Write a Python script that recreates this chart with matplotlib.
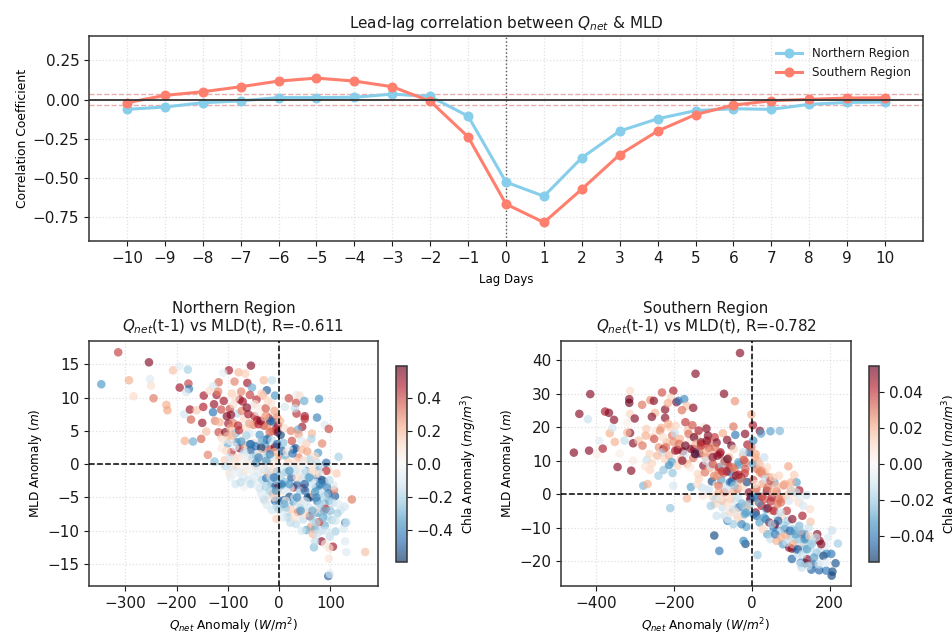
import matplotlib
matplotlib.use("Agg")
import matplotlib.pyplot as plt

lags = [-10,-9,-8,-7,-6,-5,-4,-3,-2,-1,0,1,2,3,4,5,6,7,8,9,10]
corr_north = [-.062,-.047,-.02,-.008,.013,.013,.015,.035,.02,-.105,-.525,-.615,-.37,-.2,-.122,-.07,-.058,-.062,-.03,-.018,-.015]
corr_south = [-.02,.027,.05,.082,.118,.137,.118,.082,-.01,-.237,-.665,-.782,-.57,-.35,-.2,-.095,-.035,-.007,.002,.01,.012]
signif = 0.035

north_x = [
 -314,-347,-254,-293,-284,-252,-250,-245,-220,-218,
 -207,-195,-178,-194,-177,-176,-181,-185,-174,-172,
 -161,-147,-148,-150,-184,-168,-152,-139,-126,-142,
 -98,-79,-66,-55,-87,-62,-30,-14,-109,-118,
 -129,-53,-24,-31,-8,-92,-74,-57,-77,-44,
 -122,-119,-136,34,19,40,33,49,78,74,
 50,50,34,31,11,89,97,64,45,37,
 84,63,53,116,76,142,168,131,129,105,
 83,68,70,96,99,97,98,129,132,128,
 120,109,107,112,106,110,99,89,126,114,
 -127,-129,-113,-102,-96,-89,-82,-73,-68,-60,
 -52,-47,-43,-35,-26,-20,-25,-15,-11,-4,
 -118,-112,-105,-99,-95,-90,-85,-78,-70,-64,
 -56,-50,-40,-38,-30,-24,-17,-12,-6,-3,
 -112,-106,-100,-93,-88,-83,-77,-72,-66,-60,
 -55,-50,-45,-41,-36,-30,-27,-22,-17,-12,
 -8,-3,3,8,12,18,25,28,32,38,
 44,50,55,60,65,72,78,85,92,96,
 -105,-97,-90,-84,-78,-70,-65,-60,-52,-45,
 -40,-34,-28,-25,-18,-15,-10,-7,-4,-1,
 -68,-52,-27,-20,-12,-8,-5,-2,-30,-14,
 3,8,12,16,20,24,28,32,35,39,
 44,48,52,56,60,64,68,72,76,80,
 5,10,15,18,23,27,33,37,42,47,
 52,57,62,65,70,75,78,84,88,94,
 60,53,66,72,82,86,91,97,103,75,
 60,70,78,88,92,96,48,40,22,-5,
 -95,-88,-60,-40,-33,-22,-12,-90,-75,-46,
 -125,-116,-108,-101,-94,-86,-80,-71,-63,-58,
 -48,-42,-36,-28,-22,-18,-9,-2,-34,-64,
 -110,-103,-97,-92,-86,-80,-74,-68,-62,-57,
 -52,-46,-41,-35,-29,-24,-19,-14,-9,-4,
 -95,-85,-75,-62,-55,-48,-38,-32,-26,-21,
 -16,-11,-6,-3,-18,-9,-24,-35,-42,-1,
 2,6,10,14,19,23,28,33,38,43,
 5,9,13,20,26,30,35,41,46,51,
 55,60,65,70,74,80,84,89,93,98,
 8,13,22,30,36,44,50,58,63,68,
 74,80,86,92,100,105,110,116,70,90,
 -70,-60,-50,-38,-28,-15,-5,15,45,70,
 -40,-25,-10,5,20,35,50,65,80,-55,
 -33,-18,-6,10,26,42,58,73,88,-45]
north_y = [
 16.8,12.0,15.3,12.6,10.2,12.8,11.8,9.9,8.9,8.1,
 14.1,14.7,14.2,11.5,12.1,11.3,10.8,7.5,8.2,6.7,
 8.1,10.3,8.6,6.2,3.5,3.4,3.8,1.4,.4,4.9,
 14.1,13.8,13.6,14.8,12.4,12.2,12.6,12.6,13.7,12.3,
 11.7,11.5,11.1,10.3,10.3,10.6,10.9,10.4,9.7,9.7,
 10.4,10.9,11,10.4,9.9,10.3,9.2,9.5,9.8,7,
 7.2,6.8,7.6,8.4,8.6,5.9,5.3,4.6,5.6,5.2,
 3.1,3.8,3.1,1.1,1.7,-5.3,-13.2,-13.2,-11.6,-12.4,
 -11.6,-12.5,-11.6,-16.8,-16.5,-14.2,-12.6,-8.8,-8.7,-6.4,
 -6.9,-4.8,-3.9,-1.4,-3.2,-10.1,-10.9,-9.2,-9.7,-7.4,
 9,7.8,8.2,7.2,8.3,9,7.6,8,6.8,7.5,
 8.8,9,6.6,8.3,8.4,6.9,7.3,9.2,6.3,7,
 4.8,4,4.8,6.1,5.4,6.2,4.6,5.1,3.9,5.5,
 4.6,5.9,6,4.4,5.8,5.7,6.5,5,5.2,4.8,
 2.4,.6,3.1,1.8,.9,3.3,2.4,1.2,2.8,.8,
 2.1,3.2,1.2,1.8,3.4,1.7,3,.6,2.2,.3,
 2.6,1,4.4,3.2,1.3,.3,3.5,2.2,2.4,1,
 2.2,.4,1.9,.7,-.1,.4,-.8,-.2,.2,-1,
 -.3,-1.4,-.6,-.2,-1.3,-1.9,-.9,-2.3,-1.1,-.3,
 -1.3,-2.4,-.9,-2.1,-1.6,-3,-2.3,-3.3,-1.1,-3.3,
 -3.4,-2.8,-5.4,-4.6,-4.4,-5.5,-6.3,-5.4,-5.3,-6.9,
 -1.8,-.5,-2.7,-1.2,-4.9,-2,-3.5,-1,-3.1,-5.6,
 -2.1,-3.6,-1,-5,-5,-2.9,-4.5,-3.5,-2,-4.1,
 -6.2,-5.4,-7.3,-8,-6.8,-5.6,-9,-7.2,-6.6,-8.3,
 -5.6,-7.1,-9.4,-8.4,-9.8,-7.3,-8.7,-6.9,-5.9,-7.9,
 -7.8,-9.9,-10.5,-8.8,-10,-6.2,-6.7,-5.5,-8.4,-6,
 -3.2,-1.4,-3.2,-2.6,-1,-4.4,.6,-.4,-3.6,-8.2,
 3.5,-1.5,6.2,3.2,2.3,3.9,1.3,.2,-.2,-.6,
 6.5,6.3,9.5,4.2,7.4,10,5.8,9.4,8.5,6.1,
 7.2,7.9,6.5,7.1,9.5,4.8,8,5.8,10.6,4.3,
 3.6,2,1,4.3,2.6,1,3.4,1.8,.4,3,
 1,2.7,.2,2.5,.6,3.7,1,3.6,1.8,3,
 -2,-3,-2.7,-.2,-3,-2,-3.6,-.6,-3.4,-1,
 -2,-.8,-2.4,-4.2,-4,-5,-6.1,-4.4,-3.2,-6.8,
 6.5,2,5.4,-1.2,2.2,5,-.2,.4,4.5,3.6,
 -3.2,-4,-5.5,-3,-1,-5,-2,-4,-1,-4,
 -1.2,-2,-1,-2.8,-5.5,-1.5,-2.4,-4.8,-3.4,-2.4,
 -8,-6.5,-8.8,-8,-6,-10,-7.5,-6.5,-8,-7,
 -10.5,-6,-8,-10,-7,-5.8,-8.5,-6,-4.2,-12,
 1,-.6,.2,1.5,.3,.8,.2,1.8,-.2,1.2,
 1,.5,-2,-3,-1,-5,-3,-7,-3,3,
 3.6,1.5,-4,-6,1.6,-7,-2,-5,-7,.2]
north_c = [
 .42,-.35,.55,.22,.12,-.08,.1,.32,.22,.24,
 .18,-.07,-.2,.5,.42,-.42,-.1,-.12,.5,.36,
 .16,.5,.48,.52,.22,-.3,.36,.3,-.25,.18,
 .5,.2,.15,.55,.3,.5,.2,-.15,-.05,.35,
 -.1,-.3,-.5,.2,-.35,.15,.3,.42,.5,.45,
 .5,.3,.1,-.05,.4,.1,.4,-.3,-.35,-.4,
 .5,.45,.45,-.15,-.1,-.08,.4,.2,.5,-.3,
 .3,-.2,.15,-.2,-.35,.32,.18,-.08,-.08,.5,
 .55,-.25,-.15,-.5,-.1,.08,.1,-.4,-.1,-.12,
 -.12,-.5,.3,.15,-.08,-.2,-.15,-.3,-.1,-.2,
 .52,-.45,.4,.55,.4,.1,-.15,.3,.12,.5,
 -.05,.08,.5,.05,.38,.5,.3,.08,-.45,.3,
 .4,.15,.55,.5,.2,.3,-.25,.45,.05,.1,
 -.08,.3,.48,-.35,.4,.3,-.5,.3,.45,.58,
 .06,.15,-.3,.45,.12,-.4,.55,-.08,.2,-.12,
 -.5,.1,-.35,-.08,-.12,-.2,-.35,.2,.4,.15,
 .58,.3,-.55,-.25,-.3,.15,.4,-.55,-.5,.3,
 .2,-.1,.25,-.2,.08,-.15,-.3,-.1,-.45,.1,
 -.15,.1,-.12,.12,-.1,-.08,.1,-.12,-.05,.2,
 -.1,-.2,.15,-.45,.2,-.3,-.1,-.5,-.35,.58,
 -.03,-.1,.08,-.12,.25,-.5,-.2,-.45,-.15,-.12,
 -.2,-.1,-.25,.1,-.55,-.5,.5,-.15,-.5,.1,
 -.15,.5,-.4,-.58,-.58,-.1,.15,-.3,-.5,-.15,
 -.1,-.5,-.12,-.2,.15,-.35,-.15,.3,-.2,-.15,
 -.12,.15,.25,-.1,-.3,-.35,.4,.1,-.25,-.15,
 .55,-.3,.2,-.2,-.15,-.08,.45,-.3,-.2,-.1,
 -.08,.12,-.4,-.3,.45,-.45,.08,.05,-.1,.15,
 .05,-.02,-.04,.05,.28,-.3,.08,.05,.03,-.03,
 .3,.2,.5,.18,.55,.1,.45,.5,.55,.25,
 .45,.03,.55,.2,.12,.35,.25,.5,.15,-.2,
 .04,.12,-.1,.2,-.06,.1,-.35,-.15,.05,-.4,
 -.15,-.45,.1,-.55,-.12,-.5,-.1,-.15,.2,-.5,
 -.06,-.12,-.15,.04,-.15,-.08,-.15,-.06,-.2,-.12,
 -.15,.1,-.22,.15,-.18,.1,-.1,-.08,-.04,-.2,
 .2,-.5,.1,-.2,-.05,.3,-.1,.1,.25,-.08,
 -.35,-.1,.05,-.35,-.08,-.12,.1,-.22,-.06,-.45,
 -.12,-.35,.1,-.1,-.4,.05,-.55,-.2,-.4,-.15,
 -.08,-.2,-.15,.1,-.12,-.1,.08,-.12,-.2,.1,
 -.12,-.2,-.3,-.12,-.25,-.15,-.12,-.08,-.35,.05,
 .03,-.02,.05,.08,.1,-.05,.02,.06,-.02,.12,
 -.4,-.35,-.45,-.4,-.35,-.4,-.5,-.3,-.4,-.45,
 -.3,-.4,-.35,-.3,-.45,-.35,-.3,-.4,-.3,-.35]

south_x = [
 -30,-144,-414,-456,-442,-417,-382,-376,-366,-353,
 -420,-391,-397,-339,-344,-309,-304,-364,-351,-357,
 -326,-319,-312,-319,-312,-314,-314,-312,-300,-304,
 -281,-260,-251,-230,-201,-207,-248,-256,-222,-222,
 -215,-193,-188,-173,-167,-150,-179,-71,-43,-1,
 3,21,24,48,72,-17,94,109,115,122,
 141,151,206,221,215,204,207,205,191,173,
 153,128,138,156,103,115,103,15,-83,-96,
 -16,-21,-209,-166,-278,-267,-201,-156,-239,-226,
 -212,-203,-269,-261,-256,-273,-270,-255,-245,-238,
 -232,-226,-218,-210,-204,-197,-190,-184,-176,-170,
 -164,-158,-152,-147,-140,-134,-128,-122,-116,-110,
 -230,-222,-212,-205,-196,-190,-182,-172,-165,-158,
 -150,-144,-138,-130,-124,-118,-112,-106,-100,-95,
 -90,-85,-80,-74,-68,-63,-58,-52,-47,-42,
 -135,-128,-120,-114,-108,-102,-96,-90,-84,-78,
 -72,-66,-60,-55,-50,-44,-38,-33,-27,-22,
 -16,-11,-6,-1,4,10,15,20,26,32,
 -100,-93,-85,-78,-70,-63,-56,-49,-42,-36,
 -30,-24,-18,-12,-7,-2,4,9,15,21,
 -70,-62,-55,-47,-40,-33,-26,-20,-14,-8,
 27,33,39,45,52,58,64,70,76,82,
 88,95,101,108,114,120,126,132,10,18,
 25,32,38,45,52,58,65,72,78,85,
 92,98,104,110,116,122,128,134,140,146,
 40,48,56,64,72,80,88,96,104,112,
 120,128,136,144,152,160,168,176,184,192,
 118,126,134,142,150,158,166,174,182,190,
 -4,-10,-18,-26,60,75,90,100,130,150,
 -290,-280,-272,-262,-250,-242,-235,-228,-220,-214,
 -200,-195,-186,-178,-170,-162,-155,-148,-142,-136,
 -130,-124,-118,-112,-106,-100,-94,-88,-82,-76,
 -70,-64,-58,-52,-46,-40,-34,-28,-22,-16,
 -140,-125,-110,-95,-85,-75,-65,-55,-45,-35,
 -105,-90,-75,-60,-48,-36,-25,-15,-5,5,
 3,9,14,20,27,34,41,48,55,62,
 6,12,19,26,33,41,49,57,66,74,
 12,20,28,36,44,52,60,68,75,84,
 90,98,106,112,118,124,130,136,142,148,
 154,160,165,172,178,184,190,196,125,145,
 100,85,70,55,40,25,10,-40,-60,-80,
 -145,-130,-115,-100,-88,-76,-62,-48,-34,-20]
south_y = [
 42.2,36,29.9,12.4,24,13,13.6,24.7,24.3,22.2,
 22.4,15.9,11.9,12.1,8.1,7,10,18.2,15.6,19.8,
 16,21.4,18.3,18.4,30.9,28.4,27.3,24,22.6,15.2,
 26.7,28.1,27.9,30.4,30.9,28.8,24.3,23.1,25.3,22.8,
 27.2,27.5,27.9,28.4,26.4,25.8,25.1,30,27.8,23.8,
 20.6,18.9,18.1,18.8,18.9,18,8.3,5.7,3.5,1.1,
 -.3,-8.3,-10.9,-14.8,-20.7,-17.9,-23.2,-24.4,-22.9,-22.8,
 -22.6,-22,-20.7,-20.6,-19.4,-16.7,-16.3,-18.2,-17,-12.4,
 -14.9,-14,-4.2,-1.3,2.5,3,2.5,2.1,5.5,7.2,
 8.7,6.3,10.2,7.2,9.2,8.2,19.5,17,19,14,
 19.8,13.5,15.5,20,17.5,18.2,13.2,16.5,12.8,21.5,
 19,15.8,20.6,13.4,17.6,12.2,15,20.1,19.6,13.8,
 12.5,10.5,11.6,9.6,13,8.5,10.5,11.9,9,8,
 10.8,12,6,14.2,8.5,11,17.5,13,9.8,17,
 15.4,7.4,12.5,18.2,10,16.2,8,14.5,20.2,17.7,
 4.5,2,6.5,1,7.8,3.8,5.5,2.8,8,4.2,
 6.2,2.5,8.6,6.5,4,7.6,3.2,8.8,5,11.6,
 9.5,14.8,12.5,14,16,12,10,8.5,6.5,11,
 -.8,-1.5,2.5,-1.8,.5,-2.5,3.5,.8,-2,1.5,
 4.6,2,6.2,3.6,.5,-1.3,4.2,1.8,-.5,6.5,
 -6.5,-8,-5.5,-9,-6,-4,-7.8,-3.5,-9.8,-5.5,
 3,6.5,1,5,-1,3.5,.8,5.5,-1.5,2.6,
 -.5,-2,3.5,-.8,.5,-2.5,-1,-3.5,-5.5,-2.5,
 -3.5,-7,-4.5,-8.5,-5,-9.5,-7,-11,-6.5,-10.5,
 -8,-12.5,-7.5,-11,-14,-9.5,-12,-15,-13,-10,
 -12,-13.5,-10,-14,-11.5,-15,-12.5,-16,-10.5,-13.5,
 -13.5,-16,-12,-15,-18,-14,-12,-17,-15,-17.8,
 -18,-20.5,-16.5,-19.5,-15.5,-21,-17.5,-14,-18.5,-15.5,
 -1.5,-3.5,-6,-9,-9,-2.5,-5,1,-6.5,-4.5,
 16,14.5,17.5,12,16.5,11.5,19,17,14,21,
 15.5,20.5,15,10,14.5,18,13.5,17,15,19,
 15.5,12.5,10,15.5,8.5,11,14,5.5,12,8.5,
 9.8,6.8,11,3.5,13.5,5.5,9.5,4.5,12.5,7.5,
 3,-.5,1.5,-3,.5,-4,1.5,-1.5,2.5,-1,
 -3.5,-6.5,-2,-7.5,-4.5,-7,-2.8,-5.5,-3,-6,
 9,11,7.5,9,6,4.5,2,4,.5,2.5,
 -1,1.5,-2.5,-.8,-1.5,-4.2,-2.2,-5,-3,-5.5,
 -6.5,-8.5,-10.5,-7.5,-12,-9,-12,-8,-13,-9.5,
 -14.5,-11,-15,-12,-16.5,-11,-18,-13.5,-16.5,-12.5,
 -15,-19,-13,-21,-15,-18.5,-20.5,-13,-21,-21.5,
 1.5,3,-1.5,5,8,7,3,-5.5,-3.5,-1,
 12,14.5,16,9,11.5,6.8,10.5,8,5.8,10.2]
south_c = [
 .05,.05,.05,.05,.05,.05,.045,.045,.05,.05,
 -.012,-.006,.004,.004,.05,.05,.005,.02,.02,-.01,
 -.014,.003,.05,.018,.01,.05,.055,.012,.05,.05,
 .03,.025,.05,.035,.045,.012,.018,.05,.05,.05,
 .02,.05,-.04,-.035,.016,.05,.03,.05,.025,.02,
 .045,.05,-.03,-.03,-.025,.05,.022,.014,-.03,.045,
 -.012,.016,-.012,-.02,-.048,-.04,-.05,-.05,-.04,-.045,
 -.045,-.012,-.05,.015,-.045,-.045,.05,-.02,-.04,-.05,
 -.05,-.035,-.022,.018,-.025,.02,-.01,-.03,-.02,-.022,
 -.035,-.022,-.012,.012,.012,.008,.014,.012,.006,.025,
 .02,.05,.018,.014,.03,-.012,.05,.02,.05,.04,
 .016,.006,.035,.055,.012,.055,.03,.005,.05,.04,
 -.012,.012,.018,-.03,.045,.012,.016,-.01,.02,.006,
 .03,-.04,.012,.018,.05,.028,.05,.022,.004,.04,
 .05,.025,.045,.02,-.035,.05,.03,.055,.03,-.04,
 .012,-.012,.03,-.006,.02,-.05,.028,.006,.04,-.03,
 .03,-.01,.04,-.04,.05,.025,.018,-.03,.05,.018,
 .03,.045,-.045,.03,-.035,.022,.018,-.006,.015,-.012,
 .012,-.015,.03,-.012,.035,.006,-.04,.02,-.01,.028,
 -.03,.012,.04,-.05,.05,-.05,.035,.02,-.03,.025,
 -.012,-.035,.012,-.02,-.008,-.04,.006,-.02,-.03,-.012,
 .022,.016,.05,.025,.045,-.03,.03,.012,.022,.028,
 .014,-.01,.02,.006,-.012,.01,-.006,-.01,.05,.03,
 .045,-.03,-.035,.05,.02,-.02,-.012,-.03,.012,-.045,
 -.02,-.015,.05,-.03,-.01,-.025,.045,-.02,-.03,-.012,
 -.03,-.012,-.04,.02,-.008,-.03,.02,.05,-.02,-.015,
 -.02,.012,-.03,-.012,-.006,-.02,.05,-.012,.006,-.035,
 -.012,-.035,-.02,.05,-.018,-.04,-.02,.05,-.012,-.006,
 .05,.018,-.03,-.035,.05,.03,.04,-.02,.045,.01,
 .015,.03,.02,.012,.035,.018,.025,.01,.03,.02,
 .025,.012,.03,.05,.055,.03,.05,.055,.02,.045,
 .05,.02,-.006,.03,-.012,.05,.03,.025,.045,-.02,
 .03,.045,.018,-.04,.012,.05,-.03,.028,-.012,.035,
 .01,.006,-.01,.012,.02,-.012,-.008,.014,-.02,-.012,
 -.02,-.012,.016,-.006,-.015,.012,-.025,-.03,-.02,-.035,
 -.03,.02,.03,.016,.028,-.012,.03,.035,.02,.018,
 -.04,.03,-.03,.04,.035,.05,.04,.045,.03,-.012,
 -.04,-.03,.012,-.035,-.02,-.015,-.04,-.045,.02,-.02,
 -.012,-.04,.02,-.03,-.045,-.02,-.012,-.035,-.03,.012,
 -.02,-.03,-.012,-.012,.05,-.05,-.006,-.008,-.012,-.012,
 .014,.02,.03,.012,.01,.025,.006,.008,.006,.006,
 .055,.04,.05,.035,.05,.04,.055,.03,.045,.035]

title_top = r"Lead-lag correlation between $Q_{net}$ & MLD"
title_north = "Northern Region\n" + r"$Q_{net}$(t-1) vs MLD(t), R=-0.611"
title_south = "Southern Region\n" + r"$Q_{net}$(t-1) vs MLD(t), R=-0.782"

W, H = 952, 633
def box(l, t, r, b):
    return [l / W, 1 - b / H, (r - l) / W, (b - t) / H]

plt.rcParams["axes.edgecolor"] = "#333333"
plt.rcParams["axes.linewidth"] = 1.1
plt.rcParams["text.color"] = "#1a1a1a"
plt.rcParams["xtick.color"] = "#1a1a1a"
plt.rcParams["ytick.color"] = "#1a1a1a"

fig = plt.figure(figsize=(W / 100, H / 100), dpi=100)

SKY, CORAL = "#87CEEB", "#FF7F6E"
ax = fig.add_axes(box(89, 36, 923, 241))
ax.plot(lags, corr_north, "-o", color=SKY, lw=2.2, ms=6.2, label="Northern Region", zorder=3)
ax.plot(lags, corr_south, "-o", color=CORAL, lw=2.2, ms=6.2, label="Southern Region", zorder=3)
ax.axhline(0, color="#333333", lw=1.3, zorder=4)
ax.axvline(0, color="#555555", lw=1, ls=":", zorder=2)
for s in (signif, -signif):
    ax.axhline(s, color="#E08080", lw=1, ls="--", alpha=.65, zorder=2)
ax.set_xlim(-11, 11)
ax.set_ylim(-.9, .405)
ax.set_xticks(lags)
ax.set_yticks([-.75, -.5, -.25, 0, .25])
ax.set_yticklabels(["\u22120.75", "\u22120.50", "\u22120.25", "0.00", "0.25"])
ax.tick_params(labelsize=11, length=3.5)
ax.grid(True, ls=":", color="#cccccc", alpha=.6, lw=.9)
ax.set_xlabel("Lag Days", fontsize=8.5, labelpad=5)
ax.set_ylabel("Correlation Coefficient", fontsize=8.9, labelpad=3)
ax.set_title(title_top, fontsize=11, pad=6)
ax.legend(loc="upper right", frameon=False, fontsize=8.6, handlelength=2.2,
          bbox_to_anchor=(.9985, 1.0), labelspacing=.55)

def scatter_panel(rect, cbrect, xs, ys, cs, vlim, xlim, ylim, xticks, yticks, cticks, cfmt, title):
    a = fig.add_axes(box(*rect))
    sc = a.scatter(xs, ys, c=cs, cmap="RdBu_r", vmin=-vlim, vmax=vlim, s=38, alpha=.65,
                   edgecolors="none", zorder=3)
    a.axhline(0, color="black", lw=1.1, ls="--", zorder=4)
    a.axvline(0, color="black", lw=1.1, ls="--", zorder=4)
    a.set_xlim(*xlim)
    a.set_ylim(*ylim)
    a.set_xticks(xticks)
    a.set_yticks(yticks)
    a.tick_params(labelsize=11, length=3.5)
    a.grid(True, ls=":", color="#cccccc", alpha=.6, lw=.9)
    a.set_xlabel(r"$Q_{net}$ Anomaly ($W/m^2$)", fontsize=8.7, labelpad=4)
    a.set_ylabel(r"MLD Anomaly ($m$)", fontsize=8.7, labelpad=2)
    a.set_title(title, fontsize=10.9, pad=7, linespacing=1.1)
    cax = fig.add_axes(box(*cbrect))
    cb = fig.colorbar(sc, cax=cax)
    cb.solids.set_alpha(.65)
    cb.set_ticks(cticks)
    cb.ax.set_yticklabels([cfmt % t if t >= 0 else "\u2212" + cfmt % -t for t in cticks])
    cb.ax.tick_params(labelsize=11, length=3.5)
    cb.set_label(r"Chla Anomaly ($mg/m^3$)", fontsize=8.7, labelpad=4)

scatter_panel((89, 341, 378, 586), (396, 366, 407, 562), north_x, north_y, north_c, .598,
              (-371, 193), (-18.3, 18.5), [-300, -200, -100, 0, 100], [-15, -10, -5, 0, 5, 10, 15],
              [-.4, -.2, 0, .2, .4], "%.1f", title_north)
scatter_panel((561, 341, 851, 586), (869, 366, 879, 562), south_x, south_y, south_c, .0545,
              (-489, 254.6), (-27.5, 45.8), [-400, -200, 0, 200], [-20, -10, 0, 10, 20, 30, 40],
              [-.04, -.02, 0, .02, .04], "%.2f", title_south)

fig.savefig("out.png", dpi=100)
